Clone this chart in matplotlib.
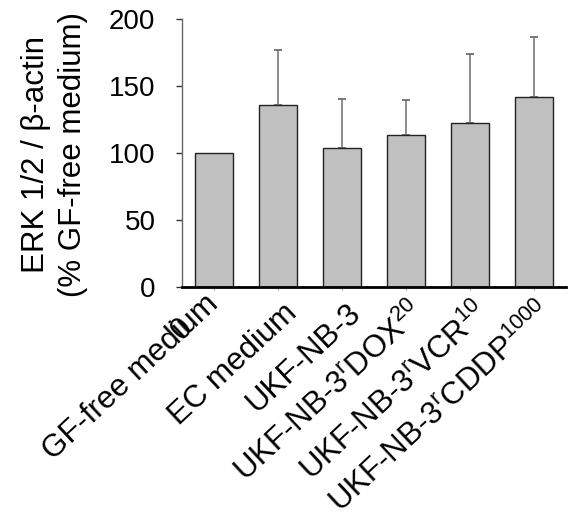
import matplotlib
matplotlib.use('Agg')
import matplotlib.pyplot as plt
import matplotlib.transforms as mtransforms
import numpy as np

plt.rcParams['font.family'] = ['Liberation Sans', 'DejaVu Sans']
plt.rcParams['mathtext.fontset'] = 'custom'
plt.rcParams['mathtext.rm'] = 'Liberation Sans'
plt.rcParams['mathtext.it'] = 'Liberation Sans'

# dati
labels = ['GF-free medium', 'EC medium', 'UKF-NB-3',
          'UKF-NB-3$^{\\mathrm{r}}$DOX$^{20}$',
          'UKF-NB-3$^{\\mathrm{r}}$VCR$^{10}$',
          'UKF-NB-3$^{\\mathrm{r}}$CDDP$^{1000}$']
values = [100, 135.5, 103.5, 113.5, 122, 141.5]
err_up = [0, 41.5, 37, 26, 51.5, 45]
yticks = [0, 50, 100, 150, 200]

fig = plt.figure(figsize=(5.68, 5.23), dpi=100)
ax = fig.add_axes([0.320, 0.451, 0.676, 0.513])

x = np.arange(len(values))
ax.bar(x, values, width=0.6, color='#c0c0c0', edgecolor='#222222', linewidth=1.0, zorder=2)
ax.errorbar(x[1:], values[1:], yerr=[np.zeros(len(x) - 1), err_up[1:]], fmt='none',
            ecolor='#6e6e6e', elinewidth=1.1, capsize=2.8, capthick=1.3, zorder=1)

ax.set_xlim(-0.5, 5.5)
ax.set_ylim(0, 200)
ax.set_yticks(yticks)
ax.tick_params(axis='y', labelsize=20, length=4, width=1, color='#333333', pad=15)
ax.set_xticks(x)
ax.set_xticklabels(labels, rotation=43, ha='right', va='bottom', rotation_mode='anchor', fontsize=22.5)
ax.tick_params(axis='x', length=2, width=0.8, color='#999999', pad=2)
# sposto le etichette in basso a destra (la prima un po' meno)
for i, lab in enumerate(ax.get_xticklabels()):
    dx, dy = (11, -18) if i == 0 else (25, -27)
    offset = mtransforms.ScaledTranslation(dx / 100, dy / 100, fig.dpi_scale_trans)
    lab.set_transform(lab.get_transform() + offset)

ax.spines['top'].set_visible(False)
ax.spines['right'].set_visible(False)
ax.spines['left'].set_color('#666666')
ax.spines['left'].set_linewidth(1.0)
ax.spines['bottom'].set_linewidth(2.0)
ax.spines['bottom'].set_color('black')

ax.set_ylabel('ERK 1/2 / \u03b2-actin\n(% GF-free medium)', fontsize=22.5, linespacing=1.3)
ax.yaxis.set_label_coords(-0.245, 0.493)

# zero spurio sotto il primo gruppo
ax.text(-0.49, -0.157, '0', transform=ax.get_xaxis_transform(), rotation=45,
        fontsize=22, ha='center', va='center')

fig.savefig('out.png', dpi=100)
